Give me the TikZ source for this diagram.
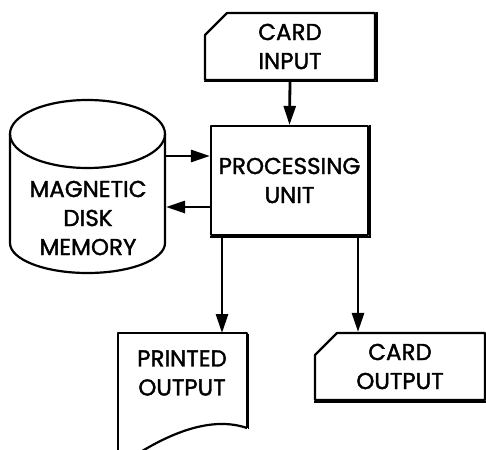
\documentclass[tikz,border=0pt]{standalone}
\usepackage{fontspec}
\setmainfont{Poppins}[FakeBold=1.6]
\usetikzlibrary{shapes.misc,arrows.meta}

\newcommand\boxfont{\fontsize{23}{29}\selectfont}

\tikzset{
  outline/.style={draw, line width=2.2pt, line join=round},
  edgeshade/.style={line width=1.8pt},
  lbl/.style={align=center, font=\boxfont, inner sep=0pt},
  cardbox/.style={outline, lbl, chamfered rectangle, chamfered rectangle corners=north west,
    chamfered rectangle xsep=13pt, chamfered rectangle ysep=9pt,
    minimum width=170pt, minimum height=67pt},
  unitbox/.style={outline, lbl, rectangle, minimum width=157pt, minimum height=109pt},
  flow/.style={line width=2.8pt, -{Triangle[length=19pt, width=12pt]}}
}

\begin{document}
\begin{tikzpicture}[x=1pt, y=-1pt]
  \useasboundingbox (0,0) rectangle (486,449);

  % card input, processing unit, card output
  \node[cardbox] (cardin) at (290,46.5) {CARD\\INPUT};
  \node[unitbox] (pu) at (289.5,180.5) {PROCESSING\\UNIT};
  \node[cardbox] (cardout) at (400,366.5) {CARD\\OUTPUT};

  % heavier right and bottom edges
  \draw[edgeshade] ([xshift=0.5pt]cardin.north east) -- ([xshift=0.5pt,yshift=-0.5pt]cardin.south east) -- ([yshift=-0.5pt]cardin.south west);
  \draw[edgeshade] ([xshift=0.5pt]pu.north east) -- ([xshift=0.5pt,yshift=-0.5pt]pu.south east) -- ([yshift=-0.5pt]pu.south west);
  \draw[edgeshade] ([yshift=-0.5pt]cardout.south east) -- ([yshift=-0.5pt]cardout.south west);

  % magnetic disk
  \draw[outline] (10,134) -- (10,243) arc[start angle=180, end angle=0, x radius=77.5, y radius=30] -- (165,134);
  \draw[outline] (87.5,134) ellipse [x radius=77.5, y radius=34];
  \node[lbl] (disk) at (88,218) {MAGNETIC\\DISK\\MEMORY};
  \coordinate (diskin) at (165,156);
  \coordinate (diskout) at (166,207);

  % printed output
  \draw[outline] (247,428) -- (247,333) -- (118,333) -- (118,470);
  \draw[outline] (247,428) .. controls (212,416) and (170,432) .. (128,460);
  \draw[edgeshade] (248.5,334) -- (248.5,429);
  \node[lbl] (prn) at (182,373) {PRINTED\\OUTPUT};
  \coordinate (prntop) at (222,333);

  % connectors
  \draw[flow] (cardin.south) -- (pu.north);
  \draw[flow] (diskin) -- (diskin -| pu.west);
  \draw[flow] (diskout -| pu.west) -- (diskout);
  \draw[flow] (prntop |- pu.south) -- (prntop);
  \draw[flow] (pu.south -| 358,0) -- (cardout.north -| 358,0);
\end{tikzpicture}
\end{document}
